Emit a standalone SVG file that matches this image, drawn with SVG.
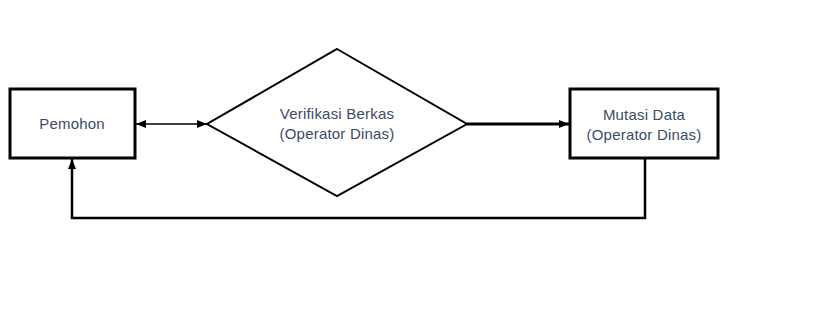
<svg xmlns="http://www.w3.org/2000/svg" width="818" height="332" viewBox="0 0 818 332">
<style>
.box{fill:#fff;stroke:#000;stroke-width:3}
.dia{fill:#fff;stroke:#000;stroke-width:2}
.lbl{font-family:"Liberation Sans",Arial,sans-serif;font-size:15px;letter-spacing:0.2px;fill:#3c4a66;text-anchor:middle}
.c{fill:none;stroke:#000}
</style>
<defs>
<marker id="ah" viewBox="0 0 10 10" refX="10" refY="5" markerWidth="10" markerHeight="10" markerUnits="userSpaceOnUse" orient="auto-start-reverse">
<path d="M0,1 L10,5 L0,9 z" fill="#000"/>
</marker>
</defs>
<rect width="818" height="332" fill="#fff"/>
<g id="connectors">
<line class="c" x1="136" y1="124" x2="207" y2="124" stroke-width="1.5" marker-start="url(#ah)" marker-end="url(#ah)"/>
<line class="c" x1="467" y1="124" x2="569" y2="124" stroke-width="3" marker-end="url(#ah)"/>
<polyline class="c" points="645,158 645,218 72,218 72,159" stroke-width="2.5" marker-end="url(#ah)"/>
</g>
<g id="pemohon">
<rect class="box" x="10" y="89" width="125" height="69"/>
<text class="lbl" x="72" y="129">Pemohon</text>
</g>
<g id="verifikasi">
<polygon class="dia" points="337,49 467,124 337,196 207,124"/>
<text class="lbl" x="337" y="119">Verifikasi Berkas</text>
<text class="lbl" x="337" y="139">(Operator Dinas)</text>
</g>
<g id="mutasi">
<rect class="box" x="570" y="89" width="148" height="69"/>
<text class="lbl" x="644" y="120">Mutasi Data</text>
<text class="lbl" x="644" y="140">(Operator Dinas)</text>
</g>
</svg>
